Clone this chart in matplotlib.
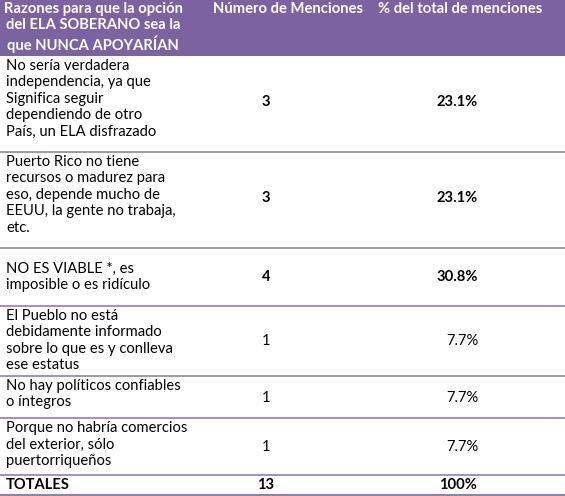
import matplotlib.pyplot as plt

headers = ["Razones para que la opción\ndel ELA SOBERANO sea la\nque NUNCA APOYARÍAN",
           "Número de Menciones", "% del total de menciones"]
reasons = ["No sería verdadera\nindependencia, ya que\nSignifica seguir\ndependiendo de otro\nPaís, un ELA disfrazado",
           "Puerto Rico no tiene\nrecursos o madurez para\neso, depende mucho de\nEEUU, la gente no trabaja,\netc.",
           "NO ES VIABLE *, es\nimposible o es ridículo",
           "El Pueblo no está\ndebidamente informado\nsobre lo que es y conlleva\nese estatus",
           "No hay políticos confiables\no íntegros",
           "Porque no habría comercios\ndel exterior, sólo\npuertorriqueños"]
counts = ["3", "3", "4", "1", "1", "1"]
percents = ["23.1%", "23.1%", "30.8%", "7.7%", "7.7%", "7.7%"]
bold_rows = [True, True, True, False, False, False]
total_label, total_count, total_pct = "TOTALES", "13", "100%"

# row layout in pixels
bounds = [0, 56, 152, 248, 306, 376, 418, 475, 496]
text_tops = [59, 155, 262, 309, 379, 421]
value_mid = [102, 198, 277, 341, 398, 447]
purple = "#7B62A0"
line_col = "#9080B0"

plt.rcParams['font.family'] = ['Lato', 'DejaVu Sans']
fig = plt.figure(figsize=(5.65, 4.96), dpi=100)
ax = fig.add_axes([0, 0, 1, 1])
ax.set_xlim(0, 565)
ax.set_ylim(496, 0)
ax.axis('off')

ax.add_patch(plt.Rectangle((0, 0), 565, bounds[1], color=purple, lw=0))
fs = 10.6
ls = 1.22
ax.text(93, 2, headers[0], ha='center', va='top', color='white', fontsize=fs,
        fontweight='bold', linespacing=ls)
ax.text(288, 2, headers[1], ha='center', va='top', color='white', fontsize=fs, fontweight='bold')
ax.text(460, 2, headers[2], ha='center', va='top', color='white', fontsize=fs, fontweight='bold')

for i, (r, c, p, b) in enumerate(zip(reasons, counts, percents, bold_rows)):
    bot = bounds[i + 2]
    w = 'bold' if b else 'normal'
    ax.text(6, text_tops[i], r, ha='left', va='top', fontsize=fs, linespacing=ls)
    ax.text(266, value_mid[i], c, ha='center', va='center', fontsize=fs, fontweight=w)
    ax.text(457 if b else 462, value_mid[i], p, ha='center', va='center', fontsize=fs, fontweight=w)
    ax.plot([0, 565], [bot, bot], color=line_col, lw=1.2)

mid = 485
ax.text(6, mid, total_label, ha='left', va='center', fontsize=fs, fontweight='bold')
ax.text(266, mid, total_count, ha='center', va='center', fontsize=fs, fontweight='bold')
ax.text(458, mid, total_pct, ha='center', va='center', fontsize=fs, fontweight='bold')
ax.plot([0, 565], [495, 495], color=line_col, lw=1.5)

fig.savefig('out.png', dpi=100)
